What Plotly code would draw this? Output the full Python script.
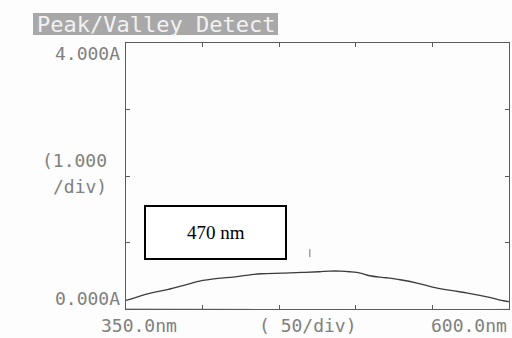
import plotly.graph_objects as go

# ---- data ----
wavelength_nm = [350, 353, 360, 366, 377, 390, 398, 410, 420, 430, 438, 452, 465, 476,
                 483, 490, 496, 503, 509, 520, 529, 540, 550, 562, 573, 580, 588, 595, 600]
absorbance = [0.13, 0.15, 0.20, 0.24, 0.29, 0.37, 0.42, 0.46, 0.48, 0.51, 0.53, 0.54, 0.55, 0.56,
              0.57, 0.57, 0.56, 0.54, 0.50, 0.47, 0.44, 0.39, 0.33, 0.28, 0.24, 0.21, 0.17, 0.13, 0.11]

baseline_nm = [350, 400, 430, 450, 470, 500, 530, 560, 580, 600]
baseline_abs = [0.0, 0.0, -0.005, -0.02, -0.03, -0.03, -0.025, -0.02, -0.01, -0.005]

peak_nm = [470]
peak_marker_abs = [0.78, 0.9]

title_text = "Peak/Valley Detect"
y_labels = ["4.000A", "(1.000", "/div)", "0.000A"]
x_labels = ["350.0nm", "( 50/div)", "600.0nm"]
box_text = "470 nm"

# ---- layout geometry (pixels) ----
W, H = 512, 338
L, R, T, B = 126, 509, 43, 309


def px(x):
    return (x - L) / (R - L)


def py(y):
    return (B - y) / (B - T)


fig = go.Figure()
fig.add_trace(go.Scatter(x=baseline_nm, y=baseline_abs, mode="lines",
                         line=dict(color="#8a8a8a", width=1), hoverinfo="skip"))
fig.add_trace(go.Scatter(x=wavelength_nm, y=absorbance, mode="lines",
                         line=dict(color="#3c3c3c", width=1.3, shape="spline"), hoverinfo="skip"))
fig.add_trace(go.Scatter(x=peak_nm * 2, y=peak_marker_abs, mode="lines",
                         line=dict(color="#707070", width=1), hoverinfo="skip"))

axis_common = dict(showgrid=False, zeroline=False, showticklabels=False,
                   showline=True, linecolor="#5a5a5a", linewidth=1, mirror="ticks",
                   ticks="inside", ticklen=4, tickcolor="#5a5a5a")
fig.update_xaxes(range=[350, 600], dtick=50, tick0=350, **axis_common)
fig.update_yaxes(range=[0, 4], dtick=1, tick0=0, **axis_common)

mono = "DejaVu Sans Mono"
gray = "#808080"
shapes = [
    dict(type="rect", xref="paper", yref="paper", x0=px(33), x1=px(278), y0=py(35), y1=py(13),
         fillcolor="#a8a8a8", line=dict(width=0), layer="below"),
    dict(type="rect", xref="paper", yref="paper", x0=px(145), x1=px(286), y0=py(259), y1=py(206),
         fillcolor="white", line=dict(color="black", width=2)),
]

ann = [
    dict(text=title_text, x=px(35), y=py(24), xanchor="left", yanchor="middle",
         font=dict(family=mono, size=22, color="#f2f2f2")),
    dict(text=y_labels[0], x=px(122), y=py(54), xanchor="right", yanchor="middle",
         font=dict(family=mono, size=18, color=gray)),
    dict(text=y_labels[1], x=px(109), y=py(160), xanchor="right", yanchor="middle",
         font=dict(family=mono, size=18, color=gray)),
    dict(text=y_labels[2], x=px(109), y=py(186), xanchor="right", yanchor="middle",
         font=dict(family=mono, size=18, color=gray)),
    dict(text=y_labels[3], x=px(122), y=py(298), xanchor="right", yanchor="middle",
         font=dict(family=mono, size=18, color=gray)),
    dict(text=x_labels[0], x=px(99), y=py(325), xanchor="left", yanchor="middle",
         font=dict(family=mono, size=18, color=gray)),
    dict(text=x_labels[1], x=px(257), y=py(325), xanchor="left", yanchor="middle",
         font=dict(family=mono, size=18, color=gray)),
    dict(text=x_labels[2], x=px(509), y=py(325), xanchor="right", yanchor="middle",
         font=dict(family=mono, size=18, color=gray)),
    dict(text=box_text, x=px(215.5), y=py(232), xanchor="center", yanchor="middle",
         font=dict(family="Liberation Serif", size=19, color="black")),
]
for a in ann:
    a.update(xref="paper", yref="paper", showarrow=False)

fig.update_layout(width=W, height=H, margin=dict(l=L, r=W - R, t=T, b=H - B),
                  paper_bgcolor="#fdfdfd", plot_bgcolor="#fdfdfd", showlegend=False,
                  shapes=shapes, annotations=ann)

fig.write_html("out.html", config={"displayModeBar": False},
               post_script="document.body.style.margin='0';")
